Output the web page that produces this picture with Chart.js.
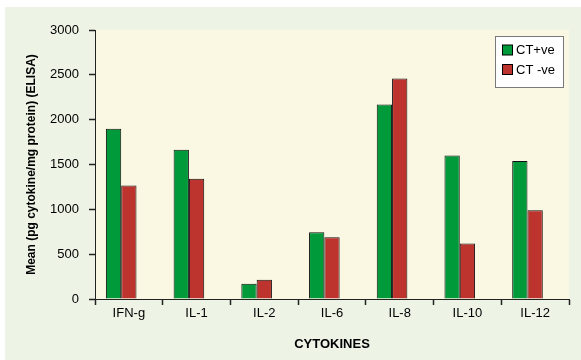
<!DOCTYPE html>
<html>
<head>
<meta charset="utf-8">
<script src="https://cdn.jsdelivr.net/npm/chart.js@4/dist/chart.umd.min.js"></script>
<style>
  html, body { margin: 0; padding: 0; background: #fff; }
  #wrap { width: 581px; height: 360px; }
</style>
</head>
<body>
<div id="wrap"><canvas id="chart" width="581" height="360"></canvas></div>
<script>
// data
const cytokines = ['IFN-g', 'IL-1', 'IL-2', 'IL-6', 'IL-8', 'IL-10', 'IL-12'];
const ctPositive = [1900, 1665, 170, 745, 2170, 1600, 1540];
const ctNegative = [1265, 1340, 215, 690, 2460, 620, 990];
const yTicks = [0, 500, 1000, 1500, 2000, 2500, 3000];

const GREEN = '#009a3a';
const RED = '#bd342e';

// page + plot backgrounds
const backgrounds = {
  id: 'backgrounds',
  beforeDraw(chart) {
    const ctx = chart.ctx;
    const a = chart.chartArea;
    ctx.save();
    ctx.fillStyle = '#ffffff';
    ctx.fillRect(0, 0, chart.width, chart.height);
    ctx.fillStyle = '#edf4e6';
    ctx.fillRect(5, 7, chart.width - 5, chart.height - 7);
    ctx.fillStyle = '#faf8e2';
    ctx.fillRect(a.left, a.top, a.right - a.left, a.bottom - a.top);
    ctx.restore();
  }
};

// boxed legend in the top right corner of the plot
const boxLegend = {
  id: 'boxLegend',
  afterDraw(chart) {
    const ctx = chart.ctx;
    const a = chart.chartArea;
    const sets = chart.data.datasets.filter(d => d.label);
    const w = 68, rowH = 19.5;
    const h = 12 + sets.length * rowH;
    const x = a.right - 6 - w, y = a.top + 6;
    ctx.save();
    ctx.fillStyle = '#ffffff';
    ctx.fillRect(x, y, w, h);
    ctx.strokeStyle = '#7a7a7a';
    ctx.lineWidth = 1;
    ctx.strokeRect(x + 0.5, y + 0.5, w, h);
    ctx.font = '13px "Liberation Sans", Arial, sans-serif';
    ctx.textBaseline = 'middle';
    sets.forEach((d, i) => {
      const cy = y + 14 + i * rowH;
      ctx.fillStyle = d.backgroundColor;
      ctx.fillRect(x + 7.5, cy - 5, 10, 10);
      ctx.strokeStyle = '#000';
      ctx.strokeRect(x + 7.5, cy - 5, 10, 10);
      ctx.fillStyle = '#000';
      ctx.fillText(d.label, x + 21, cy + 0.5);
    });
    ctx.restore();
  }
};

const tickFont = { family: '"Liberation Sans", Arial, sans-serif', size: 13 };

new Chart(document.getElementById('chart'), {
  type: 'bar',
  data: {
    labels: cytokines,
    datasets: [
      { label: 'CT+ve', data: ctPositive, backgroundColor: GREEN, borderColor: '#111', borderWidth: 1 },
      { label: 'CT -ve', data: ctNegative, backgroundColor: RED, borderColor: '#111', borderWidth: 1 },
      // empty third slot, keeps the pair left of the category centre as in the original
      { label: '', data: cytokines.map(() => null), backgroundColor: 'rgba(0,0,0,0)' }
    ]
  },
  options: {
    responsive: false,
    animation: false,
    categoryPercentage: 0.678,
    barPercentage: 1,
    layout: { padding: { left: 20, right: 12, top: 30, bottom: 4 } },
    plugins: {
      legend: { display: false },
      tooltip: { enabled: false }
    },
    scales: {
      x: {
        offset: true,
        afterFit(scale) { scale.height = 57; },
        border: { color: '#222', width: 1 },
        grid: { offset: true, drawOnChartArea: false, drawTicks: true, tickLength: 6, color: '#222', tickColor: '#222', tickWidth: 1.5 },
        ticks: { font: tickFont, color: '#000', padding: 1, maxRotation: 0 },
        title: {
          display: true,
          text: 'CYTOKINES',
          color: '#000',
          font: { family: '"Liberation Sans", Arial, sans-serif', size: 13, weight: 'bold' },
          padding: { top: 4, bottom: 4 }
        }
      },
      y: {
        min: 0,
        max: 3000,
        afterFit(scale) { scale.width = 75; },
        afterBuildTicks(scale) { scale.ticks = yTicks.map(v => ({ value: v })); },
        border: { color: '#222', width: 1 },
        grid: { drawOnChartArea: false, drawTicks: true, tickLength: 6, color: '#222', tickColor: '#222', tickWidth: 1.5 },
        ticks: { font: tickFont, color: '#000', padding: 10, callback: v => String(v) },
        title: {
          display: true,
          text: 'Mean (pg cytokine/mg protein) (ELISA)',
          color: '#000',
          font: { family: '"Liberation Sans", Arial, sans-serif', size: 12, weight: 'bold' },
          padding: { top: 4, bottom: 4 }
        }
      }
    }
  },
  plugins: [backgrounds, boxLegend]
});
</script>
</body>
</html>
